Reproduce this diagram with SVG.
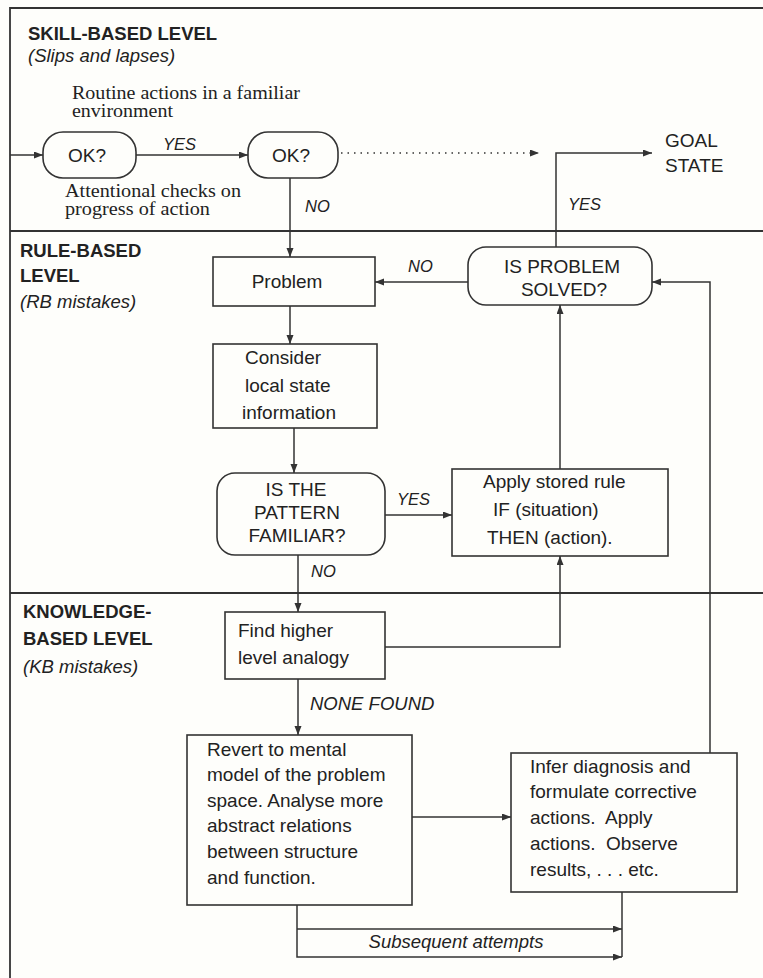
<svg xmlns="http://www.w3.org/2000/svg" width="763" height="978" viewBox="0 0 763 978">
  <defs>
    <marker id="arrow" markerUnits="userSpaceOnUse" markerWidth="10" markerHeight="8" refX="9" refY="3.5" orient="auto">
      <path d="M0,0 L9,3.5 L0,7 z" fill="#333"/>
    </marker>
    <style>
      .frame { fill: none; stroke: #333; stroke-width: 1.8; }
      .box { fill: none; stroke: #333; stroke-width: 1.6; }
      .edge { fill: none; stroke: #333; stroke-width: 1.5; marker-end: url(#arrow); }
      .plain { fill: none; stroke: #333; stroke-width: 1.5; }
      .dotted { fill: none; stroke: #333; stroke-width: 1.6; stroke-dasharray: 1.5 5; marker-end: url(#arrow); }
      text { fill: #222; font-family: "Liberation Sans", Arial, sans-serif; }
      .head { font-size: 18.5px; font-weight: bold; }
      .sub { font-size: 18.5px; font-style: italic; }
      .body { font-size: 19px; }
      .lbl { font-size: 16.5px; font-style: italic; }
      .lbl-lg { font-size: 18.5px; font-style: italic; }
      .serif { font-family: "Liberation Serif", "Times New Roman", serif; font-size: 18px; }
      .mid { text-anchor: middle; }
    </style>
  </defs>

  <rect width="763" height="978" fill="#fefefb"/>

  <!-- outer frame and level dividers -->
  <g id="frame">
    <path class="frame" d="M763,8 H10 V978"/>
    <line class="frame" x1="10" y1="231" x2="763" y2="231"/>
    <line class="frame" x1="10" y1="593" x2="763" y2="593"/>
  </g>

  <!-- level titles -->
  <g id="level-skill">
    <text class="head" x="28" y="40">SKILL-BASED LEVEL</text>
    <text class="sub" x="28" y="62">(Slips and lapses)</text>
  </g>
  <g id="level-rule">
    <text class="head" x="20" y="257">RULE-BASED</text>
    <text class="head" x="20" y="282">LEVEL</text>
    <text class="sub" x="20" y="308">(RB mistakes)</text>
  </g>
  <g id="level-knowledge">
    <text class="head" x="23" y="618">KNOWLEDGE-</text>
    <text class="head" x="23" y="645">BASED LEVEL</text>
    <text class="sub" x="23" y="673">(KB mistakes)</text>
  </g>

  <!-- skill-level annotations (wide serif setting) -->
  <g id="note-routine">
    <text class="serif" x="72" y="99" textLength="228" lengthAdjust="spacingAndGlyphs">Routine actions in a familiar</text>
    <text class="serif" x="72" y="117" textLength="101" lengthAdjust="spacingAndGlyphs">environment</text>
  </g>
  <g id="note-checks">
    <text class="serif" x="65" y="197" textLength="176" lengthAdjust="spacingAndGlyphs">Attentional checks on</text>
    <text class="serif" x="65" y="215" textLength="145" lengthAdjust="spacingAndGlyphs">progress of action</text>
  </g>

  <!-- connectors -->
  <g id="connectors">
    <path class="edge" d="M10,155 H43"/>
    <path class="edge" d="M136,155 H248"/>
    <path class="dotted" d="M341,153 H539"/>
    <path class="edge" d="M290,178 V257"/>
    <path class="edge" d="M556,247 V153 H652"/>
    <path class="edge" d="M468,282 H375"/>
    <path class="edge" d="M710,753 V282 H652"/>
    <path class="edge" d="M290,306 V344"/>
    <path class="edge" d="M294,428 V473"/>
    <path class="edge" d="M385,515 H452"/>
    <path class="edge" d="M560,469 V305"/>
    <path class="edge" d="M298,555 V612"/>
    <path class="edge" d="M385,647 H560 V556"/>
    <path class="edge" d="M298,679 V735"/>
    <path class="edge" d="M412,817 H511"/>
    <path class="edge" d="M297,905 V957 H622"/>
    <path class="edge" d="M297,929 H622"/>
    <path class="plain" d="M622,892 V957"/>

    <text class="lbl" x="163" y="150">YES</text>
    <text class="lbl" x="305" y="212">NO</text>
    <text class="lbl" x="568" y="210">YES</text>
    <text class="lbl" x="408" y="272">NO</text>
    <text class="lbl" x="397" y="505">YES</text>
    <text class="lbl" x="311" y="577">NO</text>
    <text class="lbl-lg" x="310" y="710">NONE FOUND</text>
    <text class="lbl-lg mid" x="456" y="948">Subsequent attempts</text>
  </g>

  <!-- nodes -->
  <g id="ok-1">
    <rect class="box" x="43" y="132" width="93" height="46" rx="20"/>
    <text class="body mid" x="87" y="162">OK?</text>
  </g>
  <g id="ok-2">
    <rect class="box" x="248" y="132" width="90" height="46" rx="20"/>
    <text class="body mid" x="291" y="162">OK?</text>
  </g>
  <g id="goal-state">
    <text class="body" x="665" y="147">GOAL</text>
    <text class="body" x="665" y="172">STATE</text>
  </g>
  <g id="problem-solved">
    <rect class="box" x="468" y="247" width="184" height="58" rx="18"/>
    <text class="body mid" x="562" y="273">IS PROBLEM</text>
    <text class="body mid" x="564" y="296">SOLVED?</text>
  </g>
  <g id="problem">
    <rect class="box" x="213" y="257" width="162" height="49"/>
    <text class="body mid" x="287" y="288">Problem</text>
  </g>
  <g id="consider">
    <rect class="box" x="213" y="344" width="164" height="84"/>
    <text class="body" x="245" y="364">Consider</text>
    <text class="body" x="245" y="392">local state</text>
    <text class="body" x="242" y="419">information</text>
  </g>
  <g id="pattern-familiar">
    <rect class="box" x="217" y="473" width="168" height="82" rx="18"/>
    <text class="body mid" x="296" y="496">IS THE</text>
    <text class="body mid" x="297" y="519">PATTERN</text>
    <text class="body mid" x="297" y="542">FAMILIAR?</text>
  </g>
  <g id="stored-rule">
    <rect class="box" x="452" y="469" width="216" height="87"/>
    <text class="body" x="483" y="488">Apply stored rule</text>
    <text class="body" x="493" y="516">IF (situation)</text>
    <text class="body" x="487" y="544">THEN (action).</text>
  </g>
  <g id="analogy">
    <rect class="box" x="225" y="612" width="160" height="67"/>
    <text class="body" x="238" y="637">Find higher</text>
    <text class="body" x="238" y="664">level analogy</text>
  </g>
  <g id="mental-model">
    <rect class="box" x="187" y="735" width="225" height="170"/>
    <text class="body" x="207" y="756">Revert to mental</text>
    <text class="body" x="207" y="781">model of the problem</text>
    <text class="body" x="207" y="807">space. Analyse more</text>
    <text class="body" x="207" y="832">abstract relations</text>
    <text class="body" x="207" y="858">between structure</text>
    <text class="body" x="207" y="884">and function.</text>
  </g>
  <g id="infer-diagnosis">
    <rect class="box" x="511" y="753" width="226" height="139"/>
    <text class="body" x="530" y="773">Infer diagnosis and</text>
    <text class="body" x="530" y="798">formulate corrective</text>
    <text class="body" x="530" y="824" xml:space="preserve">actions.  Apply</text>
    <text class="body" x="530" y="850" xml:space="preserve">actions.  Observe</text>
    <text class="body" x="530" y="876">results, . . . etc.</text>
  </g>
</svg>
